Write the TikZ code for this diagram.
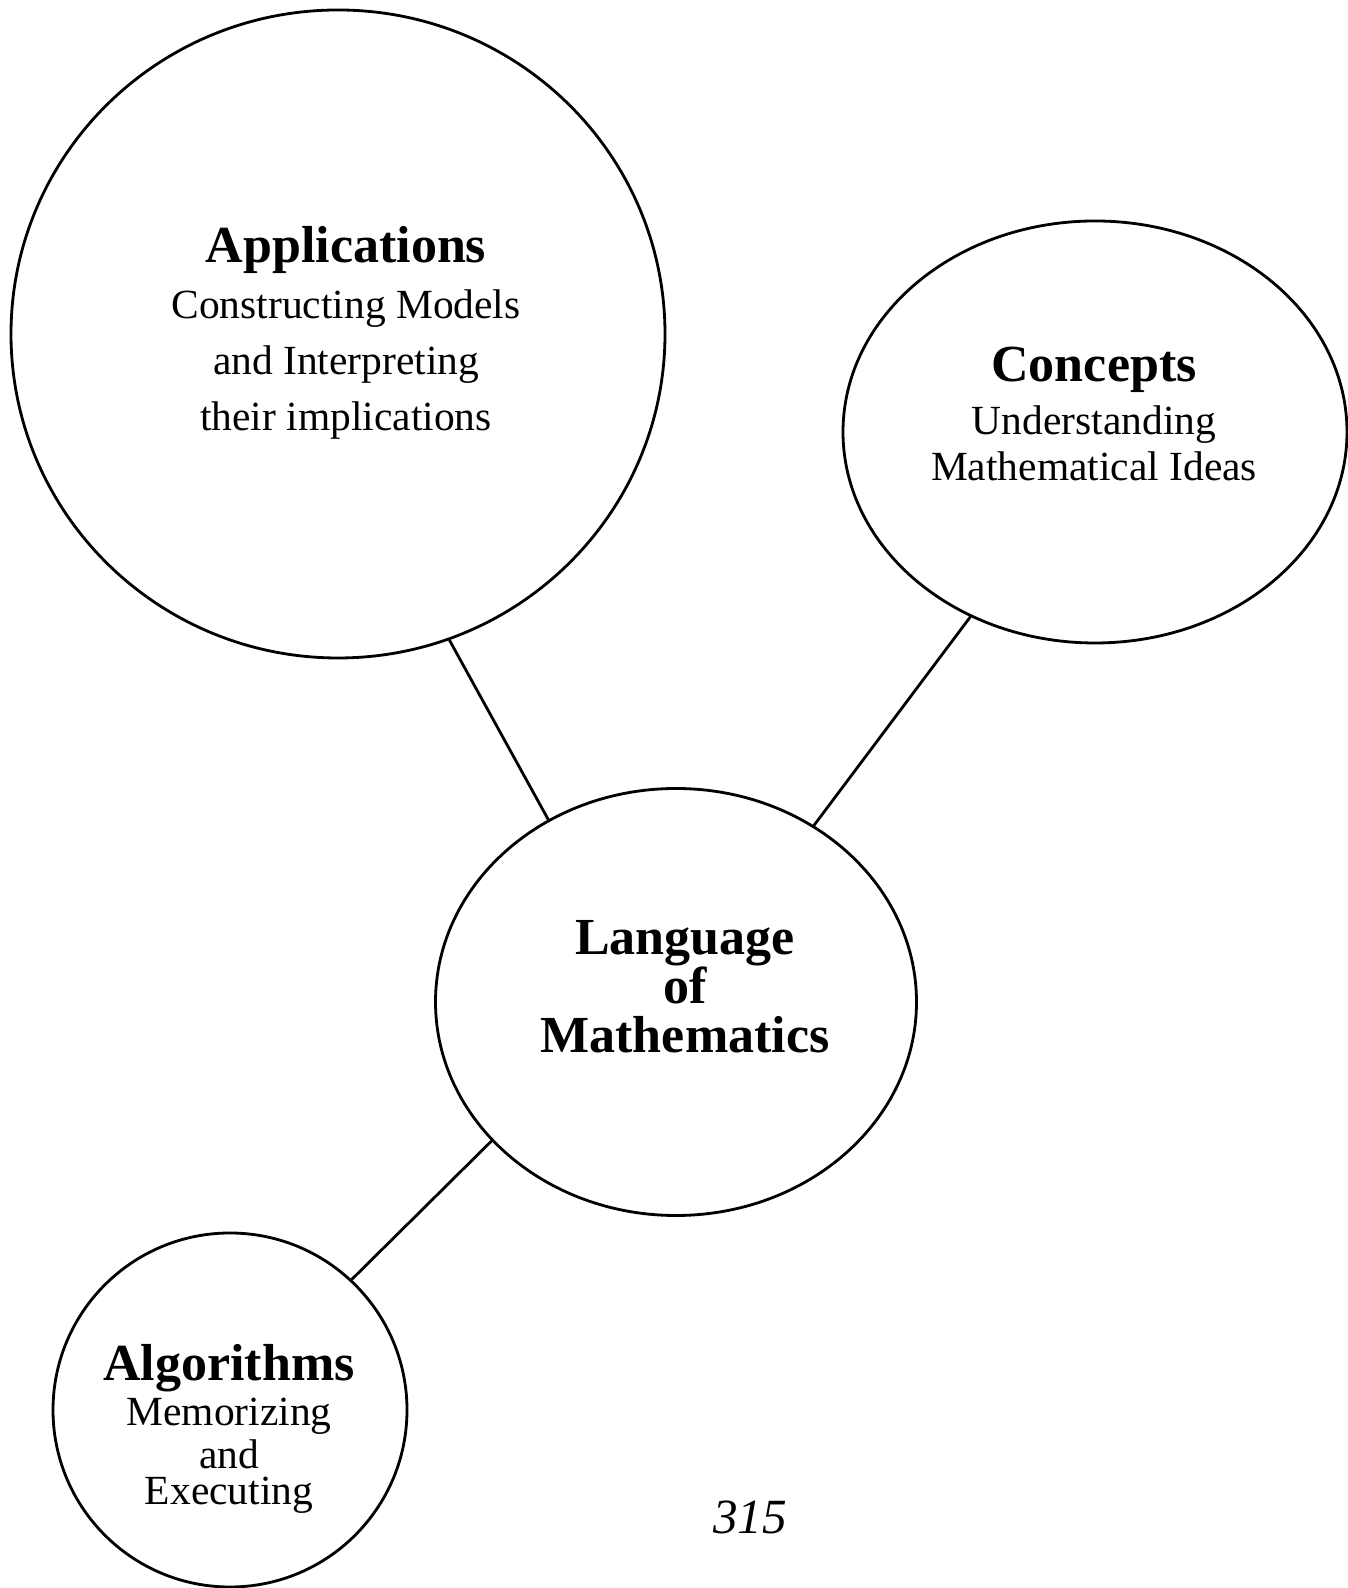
\documentclass[tikz,border=0pt]{standalone}
\usepackage{fontspec}
\setmainfont{Liberation Serif}
\usetikzlibrary{shapes.geometric}

\newcommand{\headfont}{\fontsize{14.8}{16}\selectfont\bfseries}

\begin{document}
\begin{tikzpicture}[thick,
    bubble/.style={draw, ellipse, inner sep=0pt},
    words/.style={align=center, inner sep=0pt, font=\fontsize{11.8}{15.9}\selectfont}]
      \useasboundingbox (0,0) rectangle (13.47,15.88);

      % the four bubbles
      \node[bubble, minimum width=6.54cm, minimum height=6.48cm] (app) at (3.38,12.54) {};
      \node[bubble, minimum width=5.04cm, minimum height=4.22cm] (con) at (10.95,11.56) {};
      \node[bubble, minimum width=4.81cm, minimum height=4.27cm] (lang) at (6.76,5.86) {};
      \node[bubble, minimum width=3.54cm, minimum height=3.54cm] (alg) at (2.30,1.78) {};

      % their texts
      \node[words] (appText) at (3.46,12.55) {{\headfont Applications}\\Constructing Models\\and Interpreting\\their implications};
      \node[words, font=\fontsize{11.8}{13}\selectfont] (conText) at (10.94,11.74) {{\headfont Concepts}\\[2pt]Understanding\\Mathematical Ideas};
      \node[words, font=\headfont\fontsize{14.8}{14}\selectfont] (langText) at (6.85,6.01) {Language\\of\\Mathematics};
      \node[words, font=\fontsize{11.8}{12.2}\selectfont] (algText) at (2.29,1.59) {{\headfont Algorithms}\\[0.5pt]Memorizing\\and\\[-1.8pt]Executing};

      \node[font=\fontsize{14}{16}\selectfont\itshape] (page) at (7.50,0.71) {315};

      % links to the centre
      \draw (app.-70) -- (lang.125);
      \draw (con.236) -- (lang.52);
      \draw (lang.217) -- (alg.47);

    \end{tikzpicture}
\end{document}
